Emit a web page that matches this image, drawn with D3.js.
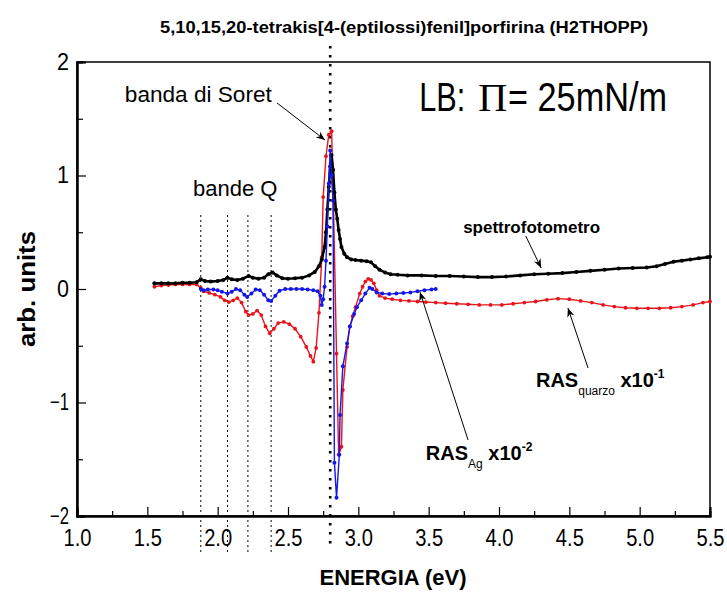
<!DOCTYPE html>
<html>
<head>
<meta charset="utf-8">
<script src="https://cdn.jsdelivr.net/npm/d3@7/dist/d3.min.js"></script>
<style>
  html, body { margin: 0; padding: 0; background: #fff; }
  svg { display: block; font-family: "Liberation Sans", Arial, sans-serif; }
</style>
</head>
<body>
<svg id="chart" width="727" height="592"></svg>
<script>
// ---------- data ----------
const titleText = "5,10,15,20-tetrakis[4-(eptilossi)fenil]porfirina (H2THOPP)";
const xTicks = [1.0, 1.5, 2.0, 2.5, 3.0, 3.5, 4.0, 4.5, 5.0, 5.5];
const yTicks = [-2, -1, 0, 1, 2];
const qBands = [1.88, 2.07, 2.215, 2.38];
const soretBand = 2.80;

// spettrofotometro  [eV, value]
const spettro = [
  [1.55,0.05],[1.60,0.05],[1.65,0.05],[1.70,0.05],[1.75,0.055],[1.80,0.055],[1.85,0.06],
  [1.88,0.085],[1.91,0.07],[1.95,0.065],[2.00,0.07],[2.04,0.08],[2.07,0.10],[2.10,0.085],
  [2.14,0.08],[2.18,0.09],[2.22,0.115],[2.25,0.10],[2.29,0.09],[2.33,0.10],[2.36,0.13],
  [2.39,0.145],[2.42,0.12],[2.46,0.095],[2.50,0.09],[2.55,0.095],[2.60,0.10],[2.65,0.12],
  [2.69,0.15],[2.72,0.20],[2.74,0.26],[2.76,0.37],[2.77,0.50],[2.78,0.70],[2.79,0.90],
  [2.80,1.08],[2.81,1.18],[2.82,1.05],[2.83,0.85],[2.84,0.70],[2.85,0.62],[2.86,0.52],
  [2.87,0.44],[2.88,0.37],[2.90,0.31],[2.92,0.28],[2.95,0.26],[2.98,0.255],[3.02,0.25],
  [3.06,0.245],[3.09,0.235],[3.12,0.20],[3.15,0.17],[3.19,0.145],[3.23,0.13],[3.28,0.125],
  [3.35,0.12],[3.45,0.12],[3.55,0.115],[3.65,0.115],[3.75,0.11],[3.85,0.105],[3.95,0.105],
  [4.05,0.11],[4.15,0.12],[4.25,0.13],[4.35,0.135],[4.45,0.14],[4.55,0.15],[4.65,0.16],
  [4.75,0.17],[4.85,0.18],[4.95,0.185],[5.05,0.19],[5.12,0.20],[5.18,0.22],[5.24,0.24],
  [5.30,0.25],[5.36,0.26],[5.42,0.27],[5.48,0.28],[5.50,0.285]
];

// RAS Ag x10^-2
const rasAg = [
  [1.88,0.0],[1.90,-0.01],[1.93,-0.005],[1.97,-0.005],[2.00,-0.01],[2.03,-0.025],[2.07,-0.04],
  [2.10,-0.025],[2.13,0.0],[2.16,-0.01],[2.19,-0.05],[2.21,-0.07],[2.24,-0.04],[2.27,-0.005],
  [2.30,-0.01],[2.33,-0.05],[2.36,-0.10],[2.38,-0.105],[2.41,-0.06],[2.44,-0.015],[2.48,0.0],
  [2.52,0.0],[2.56,0.0],[2.60,0.0],[2.64,-0.005],[2.68,-0.01],[2.71,-0.02],[2.73,-0.06],
  [2.74,-0.14],[2.75,-0.09],[2.76,0.02],[2.77,0.25],[2.78,0.55],[2.79,0.93],[2.80,1.22],
  [2.81,1.0],[2.82,0.78],[2.83,-1.53],[2.845,-1.84],[2.865,-1.46],[2.87,-1.11],[2.89,-0.68],
  [2.92,-0.48],[2.94,-0.33],[2.97,-0.22],[2.99,-0.16],[3.02,-0.10],[3.05,-0.04],[3.08,0.01],
  [3.10,0.0],[3.13,-0.03],[3.17,-0.04],[3.22,-0.045],[3.27,-0.04],[3.32,-0.035],[3.37,-0.03],
  [3.42,-0.02],[3.47,-0.01],[3.52,-0.005],[3.55,0.0]
];

// RAS quarzo x10^-1
const rasQuarzo = [
  [1.55,0.02],[1.60,0.03],[1.65,0.035],[1.70,0.04],[1.75,0.04],[1.80,0.04],[1.85,0.04],
  [1.88,0.01],[1.90,-0.02],[1.94,-0.035],[1.98,-0.05],[2.02,-0.07],[2.05,-0.10],[2.08,-0.115],
  [2.11,-0.10],[2.14,-0.08],[2.17,-0.12],[2.20,-0.20],[2.22,-0.23],[2.25,-0.22],[2.28,-0.19],
  [2.31,-0.23],[2.34,-0.33],[2.37,-0.39],[2.40,-0.35],[2.43,-0.30],[2.47,-0.29],[2.51,-0.31],
  [2.55,-0.35],[2.59,-0.42],[2.63,-0.51],[2.66,-0.59],[2.68,-0.64],[2.70,-0.52],[2.72,-0.21],
  [2.74,0.28],[2.75,0.81],[2.77,1.17],[2.79,1.36],[2.81,1.39],[2.82,0.93],[2.845,-0.57],
  [2.86,-1.46],[2.88,-1.39],[2.89,-0.89],[2.92,-0.51],[2.94,-0.33],[2.96,-0.24],[2.98,-0.16],
  [3.01,-0.04],[3.03,0.02],[3.05,0.065],[3.07,0.09],[3.09,0.08],[3.11,0.05],[3.13,-0.01],
  [3.15,-0.06],[3.19,-0.08],[3.24,-0.09],[3.30,-0.10],[3.36,-0.105],[3.42,-0.11],[3.48,-0.115],
  [3.55,-0.12],[3.62,-0.125],[3.70,-0.13],[3.78,-0.135],[3.86,-0.14],[3.94,-0.14],[4.02,-0.14],
  [4.10,-0.13],[4.18,-0.12],[4.26,-0.11],[4.34,-0.095],[4.42,-0.085],[4.50,-0.09],[4.58,-0.105],
  [4.66,-0.12],[4.74,-0.14],[4.82,-0.155],[4.90,-0.165],[4.98,-0.17],[5.06,-0.17],[5.14,-0.17],
  [5.22,-0.165],[5.30,-0.155],[5.38,-0.14],[5.45,-0.12],[5.50,-0.11]
];

// ---------- layout ----------
const svg = d3.select("#chart");
const x = d3.scaleLinear().domain([1.0, 5.5]).range([77, 710]);
const y = d3.scaleLinear().domain([-2, 2]).range([516, 62]);

// arrow marker
svg.append("defs").append("marker")
  .attr("id", "arr").attr("viewBox", "0 0 10 10").attr("refX", 10).attr("refY", 5)
  .attr("markerWidth", 9).attr("markerHeight", 9).attr("markerUnits", "userSpaceOnUse")
  .attr("orient", "auto")
  .append("path").attr("d", "M0,1 L10,5 L0,9 L3,5 Z").attr("fill", "#000");

// frame
svg.append("rect").attr("x", x(1.0)).attr("y", y(2)).attr("width", x(5.5) - x(1.0))
  .attr("height", y(-2) - y(2)).attr("fill", "none").attr("stroke", "#000").attr("stroke-width", 1.5);

// axes
const fmtX = d3.format(".1f");
const gx = svg.append("g").attr("transform", `translate(0,${y(-2)})`)
  .call(d3.axisBottom(x).tickValues(xTicks).tickFormat(fmtX).tickSize(-9).tickPadding(14));
const gxm = svg.append("g").attr("transform", `translate(0,${y(-2)})`)
  .call(d3.axisBottom(x).tickValues(d3.range(1.25, 5.5, 0.5)).tickFormat("").tickSize(-5));
const gy = svg.append("g").attr("transform", `translate(${x(1.0)},0)`)
  .call(d3.axisLeft(y).tickValues(yTicks).tickFormat(d3.format("d")).tickSize(-9).tickPadding(8));
const gym = svg.append("g").attr("transform", `translate(${x(1.0)},0)`)
  .call(d3.axisLeft(y).tickValues([-1.5, -0.5, 0.5, 1.5]).tickFormat("").tickSize(-6));
[gx, gxm, gy, gym].forEach(g => {
  g.select(".domain").attr("stroke", "#000").attr("stroke-width", 2);
  g.selectAll(".tick line").attr("stroke", "#000").attr("stroke-width", 1.2);
  g.selectAll("text").attr("fill", "#000").attr("font-size", 23)
    .attr("font-family", "'Liberation Sans', Arial, sans-serif");
});
gx.selectAll("text").attr("dy", "0.71em").attr("textLength", 28).attr("lengthAdjust", "spacingAndGlyphs");
gy.selectAll("text").each(function(d) {
  d3.select(this).attr("textLength", d < 0 ? 19 : 12).attr("lengthAdjust", "spacingAndGlyphs");
});

// vertical dotted lines
svg.selectAll(".qline").data(qBands).enter().append("line")
  .attr("x1", d => x(d)).attr("x2", d => x(d))
  .attr("y1", y(0.652)).attr("y2", y(-2.33))
  .attr("stroke", "#000").attr("stroke-width", 1).attr("stroke-dasharray", "2,3");
svg.append("line").attr("x1", x(soretBand)).attr("x2", x(soretBand))
  .attr("y1", y(2.14)).attr("y2", y(-2.27))
  .attr("stroke", "#000").attr("stroke-width", 2.6).attr("stroke-dasharray", "2.5,6.5");

// series
const line = d3.line().x(d => x(d[0])).y(d => y(d[1]));
function drawSeries(data, color, lw, r) {
  svg.append("path").datum(data).attr("d", line).attr("fill", "none")
    .attr("stroke", color).attr("stroke-width", lw);
  svg.append("g").selectAll("circle").data(data).enter().append("circle")
    .attr("cx", d => x(d[0])).attr("cy", d => y(d[1])).attr("r", r).attr("fill", color);
}
drawSeries(rasQuarzo, "#e8141b", 1.4, 1.9);
drawSeries(spettro, "#000000", 2.6, 2.0);
drawSeries(rasAg, "#1418e6", 1.4, 2.0);

// ---------- texts ----------
svg.append("text").attr("x", 404).attr("y", 33).attr("text-anchor", "middle")
  .attr("font-weight", "bold").attr("font-size", 16)
  .attr("textLength", 488).attr("lengthAdjust", "spacingAndGlyphs").text(titleText);

svg.append("text").attr("x", 393).attr("y", 585).attr("text-anchor", "middle")
  .attr("font-weight", "bold").attr("font-size", 22).text("ENERGIA (eV)");

svg.append("text").attr("transform", `translate(35,${y(0)}) rotate(-90)`).attr("text-anchor", "middle")
  .attr("font-weight", "bold").attr("font-size", 24)
  .attr("textLength", 116).attr("lengthAdjust", "spacingAndGlyphs").text("arb. units");

// annotations (positions in data coordinates)
svg.append("text").attr("x", x(1.34)).attr("y", y(1.648)).attr("font-size", 22)
  .attr("textLength", 147).attr("lengthAdjust", "spacingAndGlyphs").text("banda di Soret");
svg.append("line").attr("x1", x(2.422)).attr("y1", y(1.639)).attr("x2", x(2.763)).attr("y2", y(1.313))
  .attr("stroke", "#000").attr("stroke-width", 1).attr("marker-end", "url(#arr)");

// LB: Π= 25mN/m
svg.append("text").attr("x", x(3.433)).attr("y", y(1.57)).attr("font-size", 40)
  .attr("textLength", 46).attr("lengthAdjust", "spacingAndGlyphs").text("LB:");
svg.append("text").attr("x", x(3.853)).attr("y", y(1.57)).attr("font-size", 40)
  .attr("font-family", "'Liberation Serif', serif")
  .attr("textLength", 29).attr("lengthAdjust", "spacingAndGlyphs").text("\u03A0");
svg.append("text").attr("x", x(4.064)).attr("y", y(1.57)).attr("font-size", 40)
  .attr("textLength", 159).attr("lengthAdjust", "spacingAndGlyphs").text("= 25mN/m");

svg.append("text").attr("x", x(1.825)).attr("y", y(0.82)).attr("font-size", 22).text("bande Q");

svg.append("text").attr("x", x(3.745)).attr("y", y(0.49)).attr("font-size", 17)
  .attr("font-weight", "bold").text("spettrofotometro");
svg.append("line").attr("x1", x(4.19)).attr("y1", y(0.467)).attr("x2", x(4.30)).attr("y2", y(0.185))
  .attr("stroke", "#000").attr("stroke-width", 1).attr("marker-end", "url(#arr)");

const tq = svg.append("text").attr("x", x(4.263)).attr("y", y(-0.863)).attr("font-size", 20)
  .attr("font-weight", "bold");
tq.append("tspan").text("RAS");
tq.append("tspan").attr("font-size", 12).attr("font-weight", "normal").attr("dy", 8).text("quarzo");
tq.append("tspan").attr("dy", -8).text(" x10");
tq.append("tspan").attr("font-size", 12).attr("dy", -9).text("-1");
svg.append("line").attr("x1", x(4.633)).attr("y1", y(-0.696)).attr("x2", x(4.49)).attr("y2", y(-0.167))
  .attr("stroke", "#000").attr("stroke-width", 1).attr("marker-end", "url(#arr)");

const ta = svg.append("text").attr("x", x(3.48)).attr("y", y(-1.507)).attr("font-size", 20)
  .attr("font-weight", "bold");
ta.append("tspan").text("RAS");
ta.append("tspan").attr("font-size", 12).attr("font-weight", "normal").attr("dy", 8).text("Ag");
ta.append("tspan").attr("dy", -8).text(" x10");
ta.append("tspan").attr("font-size", 12).attr("dy", -9).text("-2");
svg.append("line").attr("x1", x(3.78)).attr("y1", y(-1.33)).attr("x2", x(3.438)).attr("y2", y(-0.026))
  .attr("stroke", "#000").attr("stroke-width", 1).attr("marker-end", "url(#arr)");
</script>
</body>
</html>
